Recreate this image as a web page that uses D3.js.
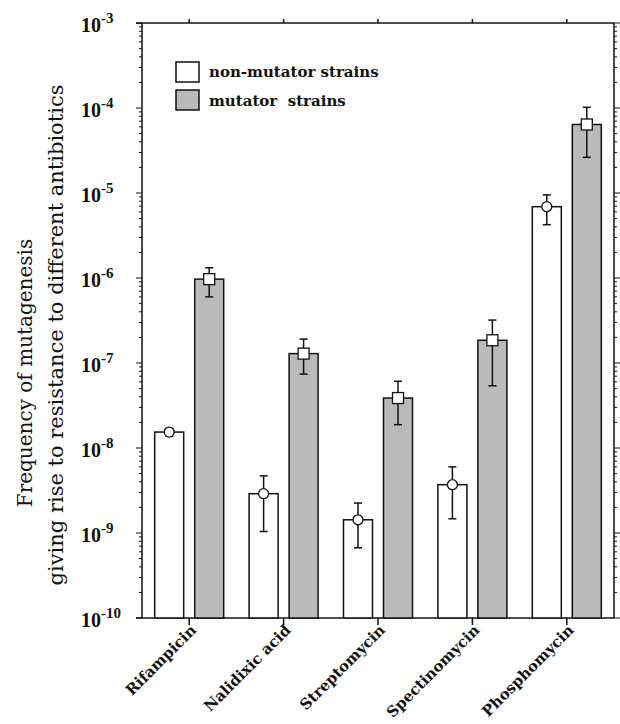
<!DOCTYPE html>
<meta charset="utf-8">
<style>
  body { margin: 0; background: #fff; }
  svg text { font-family: "Liberation Serif", "DejaVu Serif", serif; fill: #111; }
  svg text.wide { font-family: "DejaVu Serif", "Liberation Serif", serif; }
</style>
<script src="https://d3js.org/d3.v7.min.js"></script>
<div id="chart"></div>
<script>
// data
const antibiotics = ["Rifampicin", "Nalidixic acid", "Streptomycin", "Spectinomycin", "Phosphomycin"];
const strains = ["non-mutator strains", "mutator  strains"];
const nonMutator    = [1.54e-8, 2.9e-9, 1.43e-9, 3.7e-9, 6.9e-6];
const nonMutatorLo  = [1.38e-8, 1.04e-9, 6.7e-10, 1.47e-9, 4.24e-6];
const nonMutatorHi  = [1.70e-8, 4.7e-9, 2.25e-9, 6.0e-9, 9.5e-6];
const mutator       = [9.7e-7, 1.29e-7, 3.87e-8, 1.85e-7, 6.4e-5];
const mutatorLo     = [6.0e-7, 7.4e-8, 1.88e-8, 5.4e-8, 2.63e-5];
const mutatorHi     = [1.32e-6, 1.91e-7, 6.1e-8, 3.2e-7, 1.02e-4];
const yTicks = [1e-10, 1e-9, 1e-8, 1e-7, 1e-6, 1e-5, 1e-4, 1e-3];
const yTickExp = ["-10", "-9", "-8", "-7", "-6", "-5", "-4", "-3"];

const W = 620, H = 724;
const margin = {top: 23, right: 6, bottom: 106, left: 142};
const x0 = margin.left, x1 = W - margin.right, y0 = margin.top, y1 = H - margin.bottom;

const svg = d3.select("#chart").append("svg")
  .attr("width", W).attr("height", H);

const x = d3.scaleBand().domain(antibiotics).range([x0, x1]);
const xs = d3.scaleBand().domain(strains).range([0, x.bandwidth()])
  .paddingInner(0.275).paddingOuter(0.3175);
const y = d3.scaleLog().domain([1e-10, 1e-3]).range([y1, y0]);

// minor ticks
const minor = [];
for (let e = -10; e < -3; e++) for (let m = 2; m <= 9; m++) minor.push(m * Math.pow(10, e));

const frame = svg.append("g").attr("stroke", "#111").attr("stroke-width", 1.5);
// left / right axes
frame.append("line").attr("x1", x0).attr("x2", x0).attr("y1", y0).attr("y2", y1);
frame.append("line").attr("x1", x1).attr("x2", x1).attr("y1", y0).attr("y2", y1);
// top / bottom lines (extend over the major tick on the left)
frame.append("line").attr("x1", x0 - 6).attr("x2", x1).attr("y1", y0).attr("y2", y0);
frame.append("line").attr("x1", x0 - 6).attr("x2", x1).attr("y1", y1).attr("y2", y1);

const ticks = svg.append("g").attr("stroke", "#111").attr("stroke-width", 1);
ticks.selectAll(".majL").data(yTicks).join("line")
  .attr("x1", x0 - 6).attr("x2", x0).attr("y1", d => y(d)).attr("y2", d => y(d));
ticks.selectAll(".minL").data(minor).join("line")
  .attr("x1", x0 - 3).attr("x2", x0).attr("y1", d => y(d)).attr("y2", d => y(d));
ticks.selectAll(".majR").data(yTicks).join("line")
  .attr("x1", x1).attr("x2", x1 + 6).attr("y1", d => y(d)).attr("y2", d => y(d));
ticks.selectAll(".minR").data(minor).join("line")
  .attr("x1", x1).attr("x2", x1 + 3).attr("y1", d => y(d)).attr("y2", d => y(d));
// category ticks top and bottom
ticks.selectAll(".catB").data(antibiotics).join("line")
  .attr("stroke-width", 1.5)
  .attr("x1", d => x(d) + x.bandwidth() / 2).attr("x2", d => x(d) + x.bandwidth() / 2)
  .attr("y1", y1).attr("y2", y1 + 7);
ticks.selectAll(".catT").data(antibiotics).join("line")
  .attr("stroke-width", 1.5)
  .attr("x1", d => x(d) + x.bandwidth() / 2).attr("x2", d => x(d) + x.bandwidth() / 2)
  .attr("y1", y0).attr("y2", y0 - 4);

// y tick labels: 10 with superscript exponent
const yl = svg.append("g");
yTicks.forEach((t, i) => {
  const txt = yl.append("text").attr("x", 81).attr("y", y(t) + 9)
    .attr("font-size", 20).attr("font-weight", "bold");
  txt.append("tspan").text("10");
  txt.append("tspan").attr("dy", -9).attr("font-size", 15).text(yTickExp[i]);
});

// category labels
svg.append("g").selectAll("text").data(antibiotics).join("text")
  .attr("class", "wide")
  .attr("transform", d => `translate(${x(d) + x.bandwidth() / 2 + 8},${y1 + 13}) rotate(-45)`)
  .attr("text-anchor", "end")
  .attr("font-size", 15).attr("font-weight", "bold")
  .text(d => d);

// y axis title
svg.append("text").attr("class", "wide")
  .attr("transform", "translate(32,373) rotate(-90)")
  .attr("text-anchor", "middle").attr("font-size", 20)
  .text("Frequency of mutagenesis");
svg.append("text").attr("class", "wide")
  .attr("transform", "translate(63,335) rotate(-90)")
  .attr("text-anchor", "middle").attr("font-size", 21)
  .text("giving rise to resistance to different antibiotics");

// bars
const groups = [
  {key: strains[0], vals: nonMutator, lo: nonMutatorLo, hi: nonMutatorHi, fill: "#ffffff", marker: "circle"},
  {key: strains[1], vals: mutator, lo: mutatorLo, hi: mutatorHi, fill: "#bababa", marker: "square"}
];

const barsG = svg.append("g");
groups.forEach(g => {
  const data = antibiotics.map((a, i) => ({a, v: g.vals[i], lo: g.lo[i], hi: g.hi[i]}));
  const cx = d => x(d.a) + xs(g.key) + xs.bandwidth() / 2;
  barsG.append("g").selectAll("rect").data(data).join("rect")
    .attr("x", d => x(d.a) + xs(g.key)).attr("width", xs.bandwidth())
    .attr("y", d => y(d.v)).attr("height", d => y1 - y(d.v))
    .attr("fill", g.fill).attr("stroke", "#111").attr("stroke-width", 1.5);
  const eb = barsG.append("g").attr("stroke", "#111").attr("stroke-width", 1.5);
  eb.selectAll(".v").data(data).join("line")
    .attr("x1", cx).attr("x2", cx).attr("y1", d => y(d.lo)).attr("y2", d => y(d.hi));
  eb.selectAll(".t").data(data).join("line")
    .attr("x1", d => cx(d) - 4).attr("x2", d => cx(d) + 4).attr("y1", d => y(d.hi)).attr("y2", d => y(d.hi));
  eb.selectAll(".b").data(data).join("line")
    .attr("x1", d => cx(d) - 4).attr("x2", d => cx(d) + 4).attr("y1", d => y(d.lo)).attr("y2", d => y(d.lo));
  if (g.marker === "circle") {
    barsG.append("g").selectAll("circle").data(data).join("circle")
      .attr("cx", cx).attr("cy", d => y(d.v)).attr("r", 5)
      .attr("fill", "#fff").attr("stroke", "#111").attr("stroke-width", 1.3);
  } else {
    barsG.append("g").selectAll("rect").data(data).join("rect")
      .attr("x", d => cx(d) - 5.5).attr("y", d => y(d.v) - 5.5).attr("width", 11).attr("height", 11)
      .attr("fill", "#fff").attr("stroke", "#111").attr("stroke-width", 1.3);
  }
});

// legend
const legend = svg.append("g");
groups.forEach((g, i) => {
  legend.append("rect").attr("x", 176).attr("y", 62 + i * 28).attr("width", 23).attr("height", 20)
    .attr("fill", g.fill).attr("stroke", "#111").attr("stroke-width", 1.5);
  legend.append("text").attr("class", "wide").attr("x", 209).attr("y", 77 + i * 29)
    .attr("font-size", 15).attr("font-weight", "bold")
    .attr("xml:space", "preserve").style("white-space", "pre")
    .text(g.key);
});
</script>
